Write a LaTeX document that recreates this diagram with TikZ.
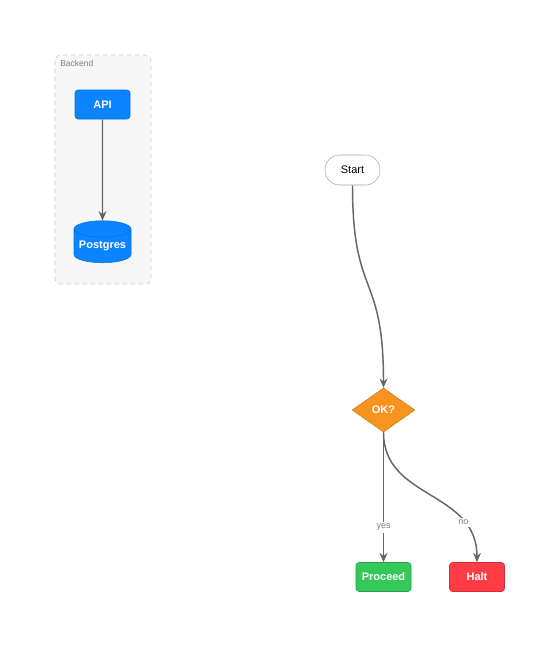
\documentclass[tikz,border=0pt]{standalone}
\usepackage{fontspec}
\setmainfont{Liberation Sans}
\usetikzlibrary{shapes.geometric,arrows.meta}
\definecolor{edgegray}{HTML}{666666}
\definecolor{bblue}{HTML}{0A84FF}
\definecolor{bblueD}{HTML}{0A6ED1}
\definecolor{ggreen}{HTML}{34C759}
\definecolor{ggreenD}{HTML}{28A048}
\definecolor{rred}{HTML}{FF3B46}
\definecolor{rredD}{HTML}{D42B35}
\definecolor{oorange}{HTML}{F7931E}
\definecolor{oorangeD}{HTML}{D07612}
\begin{document}
\begin{tikzpicture}[x=0.75pt,y=-0.75pt,
  box/.style={rectangle,rounded corners=2.2pt,minimum width=41.25pt,minimum height=21.75pt,inner sep=0pt,text=white,font=\fontsize{8.25}{10}\selectfont\bfseries},
  edge/.style={draw=edgegray,line width=1.1pt,-{Stealth[length=7pt,width=6pt]}},
  elabel/.style={fill=white,text=gray,inner sep=1.5pt,font=\fontsize{6.75}{8}\selectfont}]
\useasboundingbox (0,0) rectangle (560,647);
% container
\draw[draw=gray!45,dashed,fill=gray!6,rounded corners=4.5pt,line width=0.5pt] (55,55) rectangle (151,284);
\node[anchor=north west,text=gray,font=\fontsize{6.4}{7}\selectfont,inner sep=0pt] (lbl) at (60,60.5) {Backend};
% nodes
\node[box,fill=bblue,draw=bblueD] (api) at (102.5,104.5) {API};
\node[cylinder,shape border rotate=90,aspect=0.35,fill=bblue,draw=bblueD,minimum width=42.75pt,minimum height=31.5pt,inner sep=0pt,text=white,font=\fontsize{8.25}{10}\selectfont\bfseries] (pg) at (102.5,246) {\raisebox{-4pt}{Postgres}};
\node[rectangle,rounded corners=11pt,draw=gray!70,fill=white,minimum width=41.25pt,minimum height=22.5pt,inner sep=0pt,font=\fontsize{8.25}{10}\selectfont] (start) at (352.5,170) {Start};
\node[diamond,aspect=1.43,fill=oorange,draw=oorangeD,minimum width=47pt,minimum height=33pt,inner sep=0pt,text=white,font=\fontsize{8.25}{10}\selectfont\bfseries] (ok) at (383.5,410) {OK?};
\node[box,fill=ggreen,draw=ggreenD] (proc) at (383.5,577) {Proceed};
\node[box,fill=rred,draw=rredD] (halt) at (477,577) {Halt};
% edges
\draw[edge] (api.south) -- (pg.north);
\draw[edge] (start.south) .. controls (352.5,300) and (383.5,270) .. (ok.north);
\draw[edge] (ok.south) -- node[elabel,pos=0.73] {yes} (proc.north);
\draw[edge] (ok.south) .. controls (383.5,500) and (477,490) .. node[elabel,pos=0.76] {no} (halt.north);
\end{tikzpicture}
\end{document}
